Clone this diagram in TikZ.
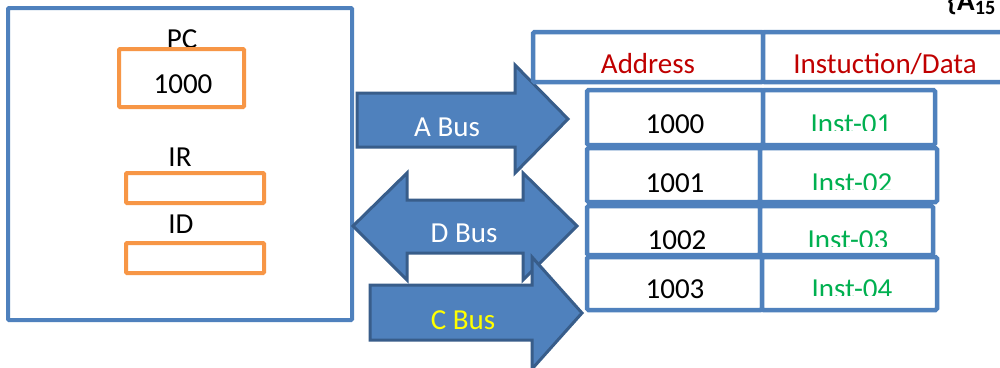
\documentclass[tikz,border=0pt]{standalone}
\usepackage{fontspec}
\setmainfont{Carlito}
\usepackage{xcolor}
\usepackage{tikz}
\usetikzlibrary{calc}
\definecolor{cpublue}{RGB}{79,129,189}
\definecolor{busedge}{RGB}{56,93,138}
\definecolor{regorange}{RGB}{247,150,70}
\definecolor{hdrred}{RGB}{192,0,0}
\definecolor{instgreen}{RGB}{0,176,80}
\definecolor{cbusyel}{RGB}{255,255,0}

\begin{document}
\begin{tikzpicture}[x=1pt,y=-1pt,
    every node/.style={font=\fontsize{29}{32}\selectfont,anchor=base,inner sep=0pt},
    regbox/.style={draw=regorange,line width=4pt,fill=white,rounded corners=1pt},
    cellbox/.style={draw=cpublue,line width=4.5pt,fill=white,rounded corners=1.5pt},
    busarrow/.style={fill=cpublue,draw=busedge,line width=3pt,line join=miter}]

    % page
    \clip (0,0) rectangle (1000,367);
    \fill[white] (0,0) rectangle (1000,367);

    % CPU box
    \draw[cpublue,line width=4pt,rounded corners=1pt] (8,8) rectangle (352,320);

    % Registers
    \node (pclabel) at (182,48) {PC};
    \draw[regbox] (119,49) rectangle (244,107);
    \node (pcval) at (183,93) {1000};
    \node (irlabel) at (180,166) {IR};
    \draw[regbox] (126,173) rectangle (264,203);
    \node (idlabel) at (181,233) {ID};
    \draw[regbox] (126,243) rectangle (264,273);

    % A Bus (one way, to memory)
    \filldraw[busarrow] (357,93) -- (515,93) -- (515,65) -- (568,119)
      -- (515,173) -- (515,147) -- (357,147) -- cycle;
    \node[white] (abus) at (447,136) {A Bus};

    % D Bus (both ways)
    \filldraw[busarrow] (353,226) -- (407,173) -- (407,200) -- (523,200)
      -- (523,173) -- (577,226) -- (523,280) -- (523,253) -- (407,253)
      -- (407,280) -- cycle;
    \node[white] (dbus) at (464,242) {D Bus};

    % C Bus
    \filldraw[busarrow] (370,285) -- (532,285) -- (532,257) -- (582,313)
      -- (532,369) -- (532,340) -- (370,340) -- cycle;
    \node[cbusyel] (cbus) at (463,329) {C Bus};

    % Memory table header
    \draw[cellbox] (533,32) rectangle (763,82);
    \draw[cellbox] (763,32) rectangle (1010,82);
    \node[hdrred] (addrhdr) at (648,73) {Address};
    \node[hdrred] (insthdr) at (885,73) {Instuction/Data};

    % Memory rows
    \foreach \rtop/\rbot/\rmid/\rright/\addr/\inst/\rbase/\ax/\ix [count=\i] in
      {90/145/763/935/1000/Inst-01/133/675/851,
       148/202/760/937/1001/Inst-02/192/675/852,
       206/255/760/933/1002/Inst-03/249/677/848,
       257/310/762/937/1003/Inst-04/298/675/852}
    {
      \draw[cellbox] (587,\rtop) rectangle (\rmid,\rbot);
      \draw[cellbox] (\rmid,\rtop) rectangle (\rright,\rbot);
      \node (addr\i) at (\ax,\rbase) {\addr};
      \begin{scope}
        \clip (\rmid,\rtop) rectangle (\rright,\rbase-3);
        \node[instgreen] (inst\i) at (\ix,\rbase) {\inst};
      \end{scope}
    }

    % Address bits (cut at page edge)
    \node[anchor=base west] (abits) at (947,10) {\textbf{\{A\textsubscript{15}}};

\end{tikzpicture}
\end{document}
